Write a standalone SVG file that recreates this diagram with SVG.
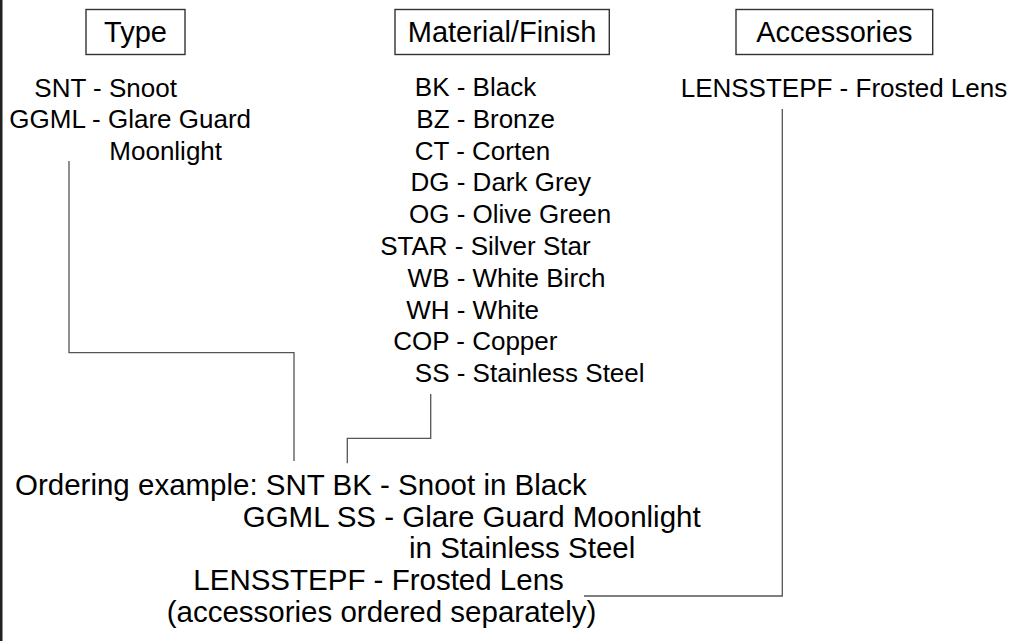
<svg xmlns="http://www.w3.org/2000/svg" width="1016" height="641" viewBox="0 0 1016 641">
<style>
.hdr{fill:#fff;stroke:#333;stroke-width:1.4}
.h{font-family:"Liberation Sans",Arial,sans-serif;font-size:29px;fill:#000;text-anchor:middle}
.b{font-family:"Liberation Sans",Arial,sans-serif;font-size:26px;fill:#000}
.o{font-family:"Liberation Sans",Arial,sans-serif;font-size:29.5px;fill:#000}
.c{fill:none;stroke:#555;stroke-width:1.3}
</style>
<rect x="0" y="0" width="1016" height="641" fill="#fff"/>
<rect x="0" y="0" width="2.5" height="641" fill="#222"/>
<g id="type">
<rect class="hdr" x="86" y="9.5" width="99" height="45"/>
<text class="h" x="135.5" y="41.7">Type</text>
<text class="b" x="34.3" y="96.5">SNT - Snoot</text>
<text class="b" x="9.3" y="128.3">GGML - Glare Guard</text>
<text class="b" x="109.3" y="159.8">Moonlight</text>
</g>
<g id="material">
<rect class="hdr" x="395" y="9.5" width="214.3" height="45"/>
<text class="h" x="502" y="41.7">Material/Finish</text>
<text class="b" x="414.8" y="96">BK - Black</text>
<text class="b" x="416.3" y="127.8">BZ - Bronze</text>
<text class="b" x="414.8" y="159.6">CT - Corten</text>
<text class="b" x="410.5" y="191.4">DG - Dark Grey</text>
<text class="b" x="409" y="223.2">OG - Olive Green</text>
<text class="b" x="380.2" y="255">STAR - Silver Star</text>
<text class="b" x="407.6" y="286.8">WB - White Birch</text>
<text class="b" x="406.2" y="318.6">WH - White</text>
<text class="b" x="393.2" y="350.4">COP - Copper</text>
<text class="b" x="414.8" y="382.2">SS - Stainless Steel</text>
</g>
<g id="accessories">
<rect class="hdr" x="736" y="9.5" width="196.7" height="45"/>
<text class="h" x="834.4" y="41.7">Accessories</text>
<text class="b" x="680.7" y="96.5">LENSSTEPF - Frosted Lens</text>
</g>
<g id="example">
<text class="o" x="15" y="495">Ordering example: SNT BK - Snoot in Black</text>
<text class="o" x="242.7" y="526.7">GGML SS - Glare Guard Moonlight</text>
<text class="o" x="409" y="558.4">in Stainless Steel</text>
<text class="o" x="193.3" y="590">LENSSTEPF - Frosted Lens</text>
<text class="o" x="166.7" y="621.7">(accessories ordered separately)</text>
</g>
<g id="connectors">
<path class="c" d="M69,161 V352.7 H294 V461"/>
<path class="c" d="M430.7,394 V438.3 H347.3 V463.3"/>
<path class="c" d="M782.3,109 V596 H584"/>
</g>
</svg>
